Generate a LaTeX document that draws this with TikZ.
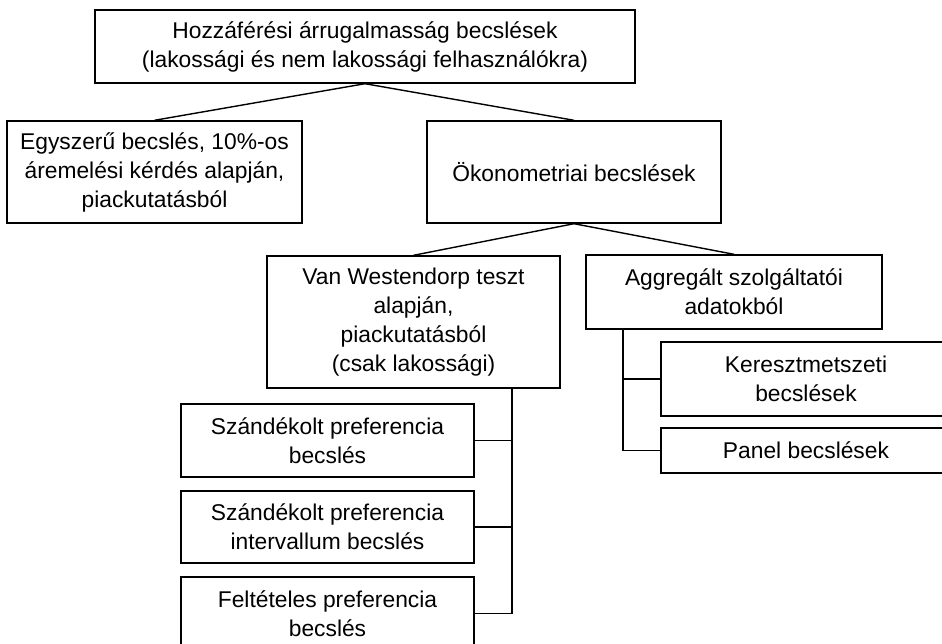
\documentclass[tikz,border=0pt]{standalone}
\usepackage{fontspec}
\setmainfont{Liberation Sans}
\usetikzlibrary{positioning}

\begin{document}
\begin{tikzpicture}[x=0.5pt, y=-0.5pt,
    box/.style={draw, line width=0.7pt, align=center, inner sep=0pt,
                font=\fontsize{11.4}{14.5}\selectfont},
    link/.style={line width=0.7pt}]
                \useasboundingbox (0,0) rectangle (942,643);
                \clip (0,0) rectangle (942,643);

                \node[box, minimum width=270pt, minimum height=36.5pt] (top) at (365,46.5)
                    {Hozzáférési árrugalmasság becslések\\(lakossági és nem lakossági felhasználókra)};
                \node[box, minimum width=147.5pt, minimum height=51pt] (simple) at (154.5,172)
                    {Egyszerű becslés, 10\%-os\\áremelési kérdés alapján,\\piackutatásból};
                \node[box, minimum width=147pt, minimum height=51pt] (econ) at (574,172)
                    {Ökonometriai becslések};
                \node[box, minimum width=146.5pt, minimum height=66pt] (vanw) at (413.5,322)
                    {Van Westendorp teszt\\alapján,\\piackutatásból\\(csak lakossági)};
                \node[box, minimum width=148pt, minimum height=37pt] (aggr) at (734,292)
                    {Aggregált szolgáltatói\\adatokból};
                \node[box, minimum width=145pt, minimum height=37pt] (cross) at (806,379)
                    {Keresztmetszeti\\becslések};
                \node[box, minimum width=145pt, minimum height=22.5pt] (panel) at (806,450.5)
                    {Panel becslések};
                \node[box, minimum width=146.5pt, minimum height=36.5pt] (stated1) at (327.5,440.5)
                    {Szándékolt preferencia\\becslés};
                \node[box, minimum width=146.5pt, minimum height=36pt] (stated2) at (327.5,527)
                    {Szándékolt preferencia\\intervallum becslés};
                \node[box, minimum width=146.5pt, minimum height=36.5pt] (cond) at (327.5,613.5)
                    {Feltételes preferencia\\becslés};

                % tree links
                \draw[link] (top.south) -- (simple.north);
                \draw[link] (top.south) -- (econ.north);
                \draw[link] (econ.south) -- (vanw.north);
                \draw[link] (econ.south) -- (aggr.north);

                % vertical branches
                \coordinate (vtop) at (512,388);
                \coordinate (atop) at (623,329);
                \draw[link] (vtop) |- (cond.east);
                \draw[link] (vtop |- stated1.east) -- (stated1.east);
                \draw[link] (vtop |- stated2.east) -- (stated2.east);
                \draw[link] (atop) |- (panel.west);
                \draw[link] (atop |- cross.west) -- (cross.west);
\end{tikzpicture}
\end{document}
